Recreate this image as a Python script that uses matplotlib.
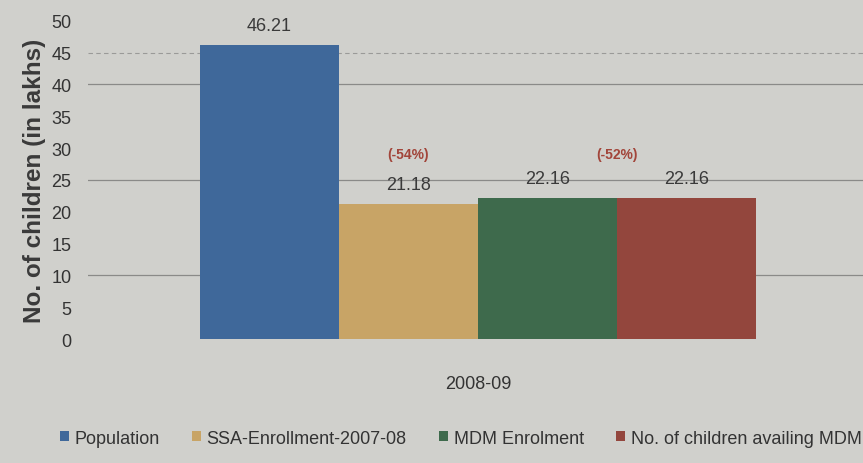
import numpy as np
import matplotlib.pyplot as plt

# data
year = "2008-09"
series = ["Population", "SSA-Enrollment-2007-08", "MDM Enrolment", "No. of children availing MDM"]
values = [46.21, 21.18, 22.16, 22.16]
value_labels = ["46.21", "21.18", "22.16", "22.16"]
drops = ["(-54%)", "(-52%)"]
drop_pos = [1, 2.5]   # bar slot where each drop label sits
drop_level = 29.0

colors = ["#3f689a", "#c8a466", "#3e6a4c", "#93463d"]
bg = "#d0d0cc"

plt.rcParams['font.family'] = ['Liberation Sans', 'DejaVu Sans']

fig = plt.figure(figsize=(8.63, 4.64), dpi=100, facecolor=bg)
ax = fig.add_axes([0.102, 0.267, 0.898, 0.686], facecolor=bg)

w = 0.2
x0 = -1.5 * w
for i, (name, v) in enumerate(zip(series, values)):
    b = ax.bar(x0 + i * w, v, width=w, color=colors[i], label=name, zorder=3)
    ax.bar_label(b, labels=[value_labels[i]], padding=8, fontsize=13, color="#3a3a3a", zorder=4)

for txt, p in zip(drops, drop_pos):
    ax.text(x0 + p * w, drop_level, txt, ha="center", va="center", fontsize=10,
            color="#a2453a", fontweight="bold")

# scanned grid: only some lines survive
for g in [10, 25, 40]:
    ax.axhline(g, color="#8a8a88", lw=0.9, zorder=1)
ax.axhline(45, color="#9a9a98", lw=0.8, ls=(0, (4, 3)), zorder=1)

ax.set_ylim(0, 50)
ax.set_yticks(np.arange(0, 51, 5))
ax.set_xlim(-0.561, 0.554)
ax.set_xticks([0])
ax.set_xticklabels([year])
ax.tick_params(axis="x", length=0, pad=26, labelsize=13, labelcolor="#333333")
ax.tick_params(axis="y", length=0, pad=12, labelsize=13, labelcolor="#333333")
for s in ax.spines.values():
    s.set_visible(False)

ax.set_ylabel("No. of children (in lakhs)", fontsize=17.5, fontweight="bold", color="#3a3a3a", labelpad=4)

fig.legend(loc="lower center", bbox_to_anchor=(0.534, 0.0), ncol=4, frameon=False,
           fontsize=13, handlelength=0.5, handleheight=0.5, handletextpad=0.3,
           columnspacing=1.8, labelcolor="#333333")

fig.savefig("out.png", dpi=100, facecolor=bg)
